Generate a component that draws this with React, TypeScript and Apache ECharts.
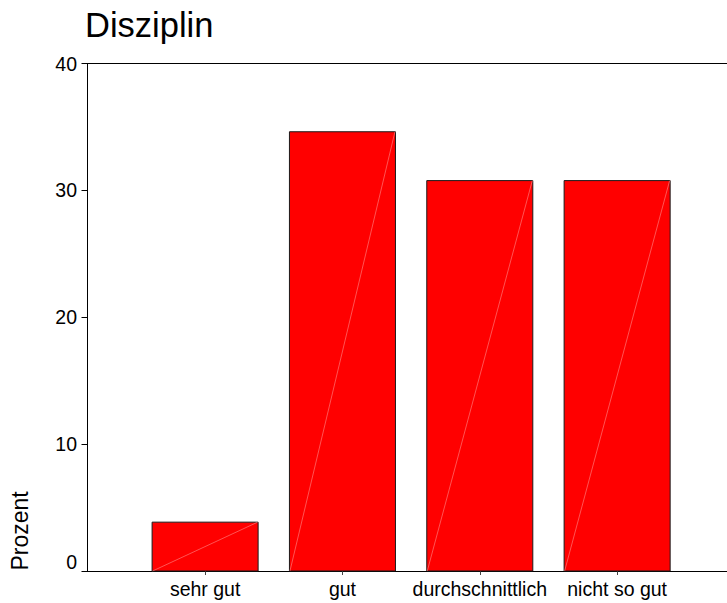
import React, { useEffect, useRef } from "react";
import * as echarts from "echarts";

const TITLE = "Disziplin";
const Y_NAME = "Prozent";
const CATEGORIES = ["sehr gut", "gut", "durchschnittlich", "nicht so gut"];
const PERCENT = [3.85, 34.62, 30.77, 30.77];
const Y_TICKS = [0, 10, 20, 30, 40];

const FONT = "'Liberation Sans', Arial, Helvetica, sans-serif";
const BAR_W = 0.772; // in category units

export default function App() {
  const ref = useRef<HTMLDivElement>(null);
  useEffect(() => {
    if (!ref.current) return;
    const chart = echarts.init(ref.current, null, { renderer: "svg" });
    const positions = CATEGORIES.map((_, i) => i + 1);
    const data = PERCENT.map((v, i) => [positions[i], v]);
    chart.setOption({
      animation: false,
      backgroundColor: "#ffffff",
      title: {
        text: TITLE,
        left: 80,
        top: 2,
        textStyle: { fontFamily: FONT, fontSize: 34.5, fontWeight: "normal", color: "#000" },
      },
      grid: { left: 87, right: 0, top: 63.5, bottom: 32, containLabel: false },
      xAxis: [
        {
          type: "value",
          position: "bottom",
          min: 0.14,
          max: 4.8,
          axisLine: { show: true, lineStyle: { color: "#000", width: 1 } },
          axisTick: { show: true, inside: false, length: 4, customValues: positions, lineStyle: { color: "#444" } },
          axisLabel: {
            show: true,
            customValues: positions,
            margin: 8,
            fontFamily: FONT,
            fontSize: 19.5,
            color: "#000",
            formatter: (v: number) => CATEGORIES[Math.round(v) - 1] ?? "",
          },
          splitLine: { show: false },
        },
        {
          type: "value",
          position: "top",
          min: 0.14,
          max: 4.8,
          axisLine: { show: true, onZero: false, lineStyle: { color: "#000", width: 1 } },
          axisTick: { show: false },
          axisLabel: { show: false },
          splitLine: { show: false },
        },
      ],
      yAxis: {
        type: "value",
        min: Y_TICKS[0],
        max: Y_TICKS[Y_TICKS.length - 1],
        interval: 10,
        axisLine: { show: true, lineStyle: { color: "#000", width: 1 } },
        axisTick: { show: true, length: 5.5, lineStyle: { color: "#000" } },
        axisLabel: {
          margin: 10,
          fontFamily: FONT,
          fontSize: 19.5,
          color: "#000",
          formatter: (v: number) => (v === 0 ? "{z|0}" : String(v)),
          rich: { z: { fontFamily: FONT, fontSize: 19.5, color: "#000", padding: [0, 0, 18, 0] } },
        },
        splitLine: { show: false },
      },
      graphic: [
        {
          type: "text",
          x: 20,
          y: 570.5,
          rotation: Math.PI / 2,
          style: {
            text: Y_NAME,
            fontFamily: FONT,
            fontSize: 23,
            fill: "#000",
            textAlign: "left",
            textVerticalAlign: "middle",
          },
        },
      ],
      series: [
        {
          type: "custom",
          xAxisIndex: 0,
          data,
          renderItem: (params: any, api: any) => {
            const x = api.value(0);
            const y = api.value(1);
            const top = api.coord([x, y]);
            const base = api.coord([x, 0]);
            const w = api.size([BAR_W, 0])[0];
            const left = top[0] - w / 2;
            return {
              type: "group",
              children: [
                {
                  type: "rect",
                  shape: { x: left, y: top[1], width: w, height: base[1] - top[1] },
                  style: { fill: "#ff0000", stroke: "#1a1a1a", lineWidth: 1 },
                },
                {
                  type: "line",
                  shape: { x1: left + 0.5, y1: base[1], x2: left + w - 0.5, y2: top[1] },
                  style: { stroke: "#ff8c8c", lineWidth: 0.6 },
                },
              ],
            };
          },
        },
      ],
    });
    return () => chart.dispose();
  }, []);
  return (
    <div
      ref={ref}
      style={{ position: "fixed", left: 0, top: 0, width: 727, height: 603, background: "#fff" }}
    />
  );
}
